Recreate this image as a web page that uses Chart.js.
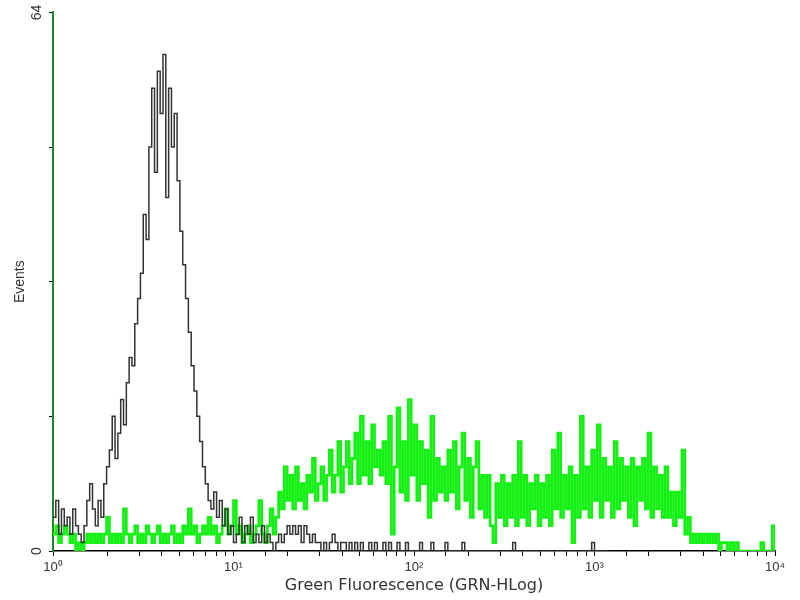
<!DOCTYPE html>
<html><head><meta charset="utf-8">
<script src="https://cdn.jsdelivr.net/npm/chart.js@4.4.1/dist/chart.umd.min.js"></script>
<style>html,body{margin:0;padding:0;background:#fff}#wrap{width:800px;height:600px}</style>
</head><body><div id="wrap"><canvas id="c" width="800" height="600"></canvas></div>
<script>
// Histogram settings: 256 channels spread over 4 log decades (HLog)
const CHANNELS = 256;
const DECADES = 4;

// Unstained control (black), counts per channel
const blackCounts = [
  4,6,2,5,3,4,2,5,3,2, 1,3,6,8,5,3,6,4,8,10,
  12,16,11,14,18,15,20,23,22,27, 30,33,40,37,48,55,45,57,52,59,
  42,55,48,52,44,38,34,30,26,22, 19,16,13,10,8,6,5,7,4,6,
  3,5,2,3,1,2,4,1,3,2, 4,1,2,1,3,1,2,1,0,1,
  2,1,2,3,2,3,2,3,1,3, 2,1,2,1,1,0,1,0,1,2,
  1,0,1,1,0,1,0,1,0,1, 0,0,1,0,1,0,0,1,0,1,
  0,0,1,0,0,1,0,0,
  0,0,1,0,0,0,1,0,0,0, 0,1,0,0,0,0,0,1,0,0,
  0,0,0,0,0,0,0,0,0,0, 0,0,0,0,0,1,0,0,0,0,
  0,0,0,0,0,0,0,0,0,0, 0,0,0,0,0,0,0,0,0,0,
  0,0,0,1,0,0,0,0,0,0
];

// Stained sample (green), counts per channel
const greenCounts = [
  2,3,1,2,3,2,1,2,0,1, 0,1,2,1,2,1,2,1,2,4,
  1,2,1,2,1,5,2,1,2,3, 1,2,1,3,2,1,2,3,1,2,
  1,2,3,1,2,1,3,2,5,2, 3,1,2,3,2,4,2,3,1,2,
  3,5,2,3,6,2,3,1,2,3, 1,2,3,6,2,1,3,5,2,4,
  7,5,10,6,9,5,10,6,8,5, 9,7,11,6,8,10,6,9,12,7,
  9,13,7,10,13,8,11,14,8,16, 9,13,8,15,10,12,9,13,8,16,
  2,10,17,7,13,6,18,9,15,6, 13,8,12,4,16,6,11,7,10,6,
  12,7,13,5,10,14,6,11,4,10, 13,5,9,4,9,3,1,8,4,9,
  3,8,4,9,3,13,4,9,3,8, 5,9,3,8,4,9,3,12,5,14,
  4,9,5,10,1,9,4,16,5,10, 4,12,6,15,4,11,6,10,4,13,
  5,11,6,10,4,11,3,10,6,11, 5,14,4,10,5,9,4,10,4,7,
  3,7,4,12,2,4,1,2,1,2, 1,2,1,2,1,2,0,1,1,0,
  1,0,1,0,0,0,0,0,0,0, 0,1,0,0,0,3,0
];

const yTickLabels = { 0: '0', 64: '64' };
const decadeLabels = ['10\u2070', '10\u00B9', '10\u00B2', '10\u00B3', '10\u2074'];
const xTitle = 'Green Fluorescence (GRN-HLog)';
const yTitle = 'Events';

function toPoints(counts) {
  return counts.map((v, i) => ({ x: Math.pow(10, DECADES * i / CHANNELS), y: v }));
}

const FONT = '"Liberation Sans", Arial, sans-serif';

new Chart(document.getElementById('c'), {
  type: 'line',
  data: {
    datasets: [
      { data: toPoints(blackCounts), borderColor: '#333333', borderWidth: 1.5, stepped: true, pointRadius: 0, fill: false },
      { data: toPoints(greenCounts), borderColor: '#14f014', borderWidth: 2.7, stepped: true, pointRadius: 0, fill: false }
    ]
  },
  options: {
    responsive: false,
    animation: false,
    devicePixelRatio: 1,
    layout: { padding: { top: 10, right: 25, left: 0, bottom: 0 } },
    plugins: { legend: { display: false }, tooltip: { enabled: false } },
    scales: {
      x: {
        type: 'logarithmic',
        min: 1, max: 10000,
        afterFit: s => { s.height = 49; },
        border: { display: true, color: '#000', width: 1.5 },
        grid: { display: true, drawOnChartArea: false, drawTicks: true, tickLength: 5, color: '#000' },
        ticks: {
          autoSkip: false, maxRotation: 0, minRotation: 0, padding: 4,
          color: '#333', font: { family: FONT, size: 13 },
          callback: function (value) {
            const e = Math.log10(value);
            if (Math.abs(e - Math.round(e)) < 1e-9) return decadeLabels[Math.round(e)];
            return '';
          }
        },
        title: { display: true, text: xTitle, color: '#333', font: { family: '"DejaVu Sans", sans-serif', size: 16 }, padding: { top: 0, bottom: 5 } }
      },
      y: {
        type: 'linear',
        min: 0, max: 64,
        afterFit: s => { s.width = 53; },
        border: { display: true, color: '#1e8a1e', width: 2 },
        grid: { display: true, drawOnChartArea: false, drawTicks: true, tickLength: 4, color: '#000' },
        ticks: {
          stepSize: 16, minRotation: 90, maxRotation: 90, padding: 4, crossAlign: 'center',
          color: '#333', font: { family: FONT, size: 14 },
          callback: v => (yTickLabels[v] !== undefined ? yTickLabels[v] : '')
        },
        title: { display: true, text: yTitle, color: '#333', font: { family: FONT, size: 14 }, padding: { top: 12, bottom: 0 } }
      }
    }
  }
});
</script>
</body></html>
